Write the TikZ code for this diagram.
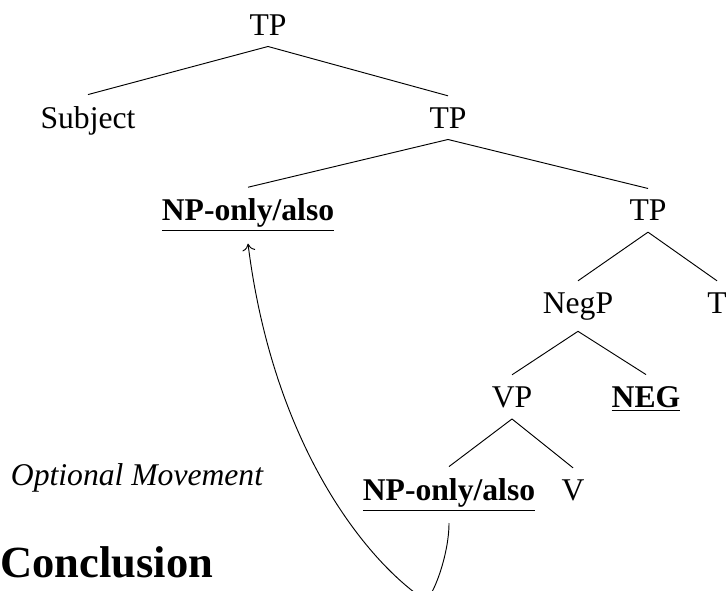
\documentclass[tikz,border=0pt]{standalone}
\usepackage{fontspec}
\setmainfont{Liberation Serif}
\usepackage{tikz}
\usetikzlibrary{arrows.meta}

\begin{document}
\begin{tikzpicture}[cat/.style={anchor=base, inner sep=4.7pt, font=\fontsize{13.5}{16}\selectfont},
                    focus/.style={cat, font=\fontsize{13.5}{16}\selectfont\bfseries}]
            \useasboundingbox (0,0) rectangle (10.89,8.85);
            \clip (0,0) rectangle (10.89,8.85);

            % Raiz y primer nivel
            \node[cat] (tp1) at (4.02,8.325) {TP};
            \node[cat] (subj) at (1.32,6.93) {Subject};
            \node[cat] (tp2) at (6.72,6.93) {TP};

            % Posicion de destino
            \node[focus] (npu) at (3.72,5.54) {\underline{NP-only/also}};
            \node[cat] (tp3) at (9.72,5.54) {TP};

            % Negacion
            \node[cat] (negp) at (8.67,4.155) {NegP};
            \node[cat] (t) at (10.755,4.155) {T};
            \node[cat] (vp) at (7.68,2.745) {VP};
            \node[focus] (neg) at (9.69,2.745) {\underline{NEG}};

            % Posicion de origen
            \node[focus] (npl) at (6.735,1.35) {\underline{NP-only/also}};
            \node[cat] (v) at (8.595,1.35) {V};

            % Rotulos
            \node[cat, font=\fontsize{13.5}{16}\selectfont\itshape] (opt) at (2.055,1.575) {Optional Movement};
            \node[anchor=base west, inner sep=0pt, font=\fontsize{19}{23}\selectfont\bfseries] (concl) at (0,0.195) {Conclusion};

            % Ramas
            \draw (tp1.south) -- (subj.north);
            \draw (tp1.south) -- (tp2.north);
            \draw (tp2.south) -- (npu.north);
            \draw (tp2.south) -- (tp3.north);
            \draw (tp3.south) -- (negp.north);
            \draw (tp3.south) -- (t.north);
            \draw (negp.south) -- (vp.north);
            \draw (negp.south) -- (neg.north);
            \draw (vp.south) -- (npl.north);
            \draw (vp.south) -- (v.north);

            % Movimiento
            \coordinate (low) at (6.375,-0.15);
            \draw[-{To[length=3pt,width=5.5pt]}] (npl.south) .. controls +(0,-0.5) and +(0.1,0) .. (low)
                .. controls +(-0.9,0.6) and +(0.375,-3) .. (npu.south);
        \end{tikzpicture}
\end{document}
